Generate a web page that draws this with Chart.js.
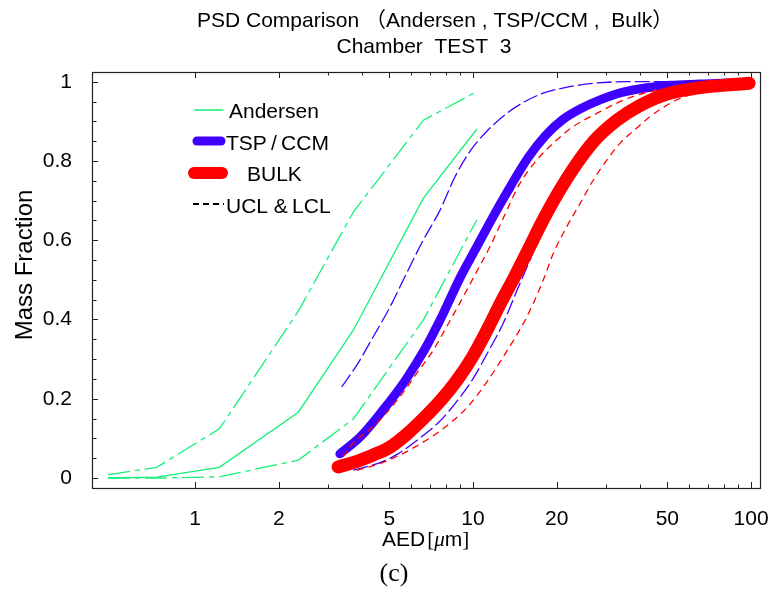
<!DOCTYPE html>
<html>
<head>
<meta charset="utf-8">
<script src="https://cdn.jsdelivr.net/npm/chart.js@4.4.1/dist/chart.umd.min.js"></script>
<style>
  body { margin: 0; background: #fff; }
</style>
</head>
<body>
<canvas id="psdChart" width="768" height="595"></canvas>
<script>
// values: AED [um] vs cumulative mass fraction
const andersenX = [0.487, 0.728, 1.223, 2.353, 3.71, 6.63, 10.31];
const andersenY = [0.0, 0.002, 0.027, 0.166, 0.373, 0.706, 0.880];
const andersenUclY = [0.008, 0.027, 0.124, 0.421, 0.671, 0.903, 0.975];
const andersenLclY = [0.0, 0.0, 0.003, 0.045, 0.149, 0.399, 0.651];

const tspX = [3.32, 3.92, 4.75, 5.69, 6.72, 7.80, 8.98, 10.31, 11.8, 13.59, 15.77, 18.16, 20.9, 24.26, 28.63, 34.36, 41.56, 51.1, 65.5, 84.0, 99.2];
const tspY = [0.061, 0.103, 0.172, 0.245, 0.326, 0.414, 0.505, 0.583, 0.659, 0.734, 0.808, 0.863, 0.903, 0.931, 0.954, 0.973, 0.984, 0.991, 0.994, 0.997, 0.998];
const tspUclX = [3.37, 3.82, 4.38, 5.03, 5.77, 6.63, 7.61, 8.61, 9.83, 11.32, 13.22, 15.38, 17.86, 21.43, 27.03, 35.7, 65.5, 99.2];
const tspUclY = [0.230, 0.285, 0.357, 0.432, 0.517, 0.601, 0.676, 0.760, 0.828, 0.878, 0.920, 0.950, 0.971, 0.985, 0.996, 1.0, 1.0, 1.0];
const tspLclX = [3.71, 4.55, 5.37, 6.34, 7.61, 8.83, 10.03, 11.32, 12.83, 14.40, 16.03, 17.42, 20.2, 23.3, 27.5, 33.0, 39.9, 49.9, 65.5, 99.2];
const tspLclY = [0.020, 0.037, 0.061, 0.097, 0.144, 0.197, 0.252, 0.318, 0.390, 0.474, 0.550, 0.611, 0.705, 0.772, 0.838, 0.890, 0.932, 0.962, 0.982, 0.995];

const bulkX = [3.27, 3.83, 4.37, 5.03, 5.79, 6.61, 7.61, 8.76, 10.0, 11.24, 12.62, 14.16, 15.77, 17.71, 20.22, 23.28, 27.47, 32.96, 39.87, 49.87, 65.5, 86.1, 98.4];
const bulkY = [0.028, 0.042, 0.058, 0.078, 0.111, 0.149, 0.194, 0.247, 0.308, 0.374, 0.444, 0.510, 0.575, 0.646, 0.719, 0.787, 0.853, 0.903, 0.940, 0.969, 0.985, 0.993, 0.996];
const bulkUclX = [3.41, 3.61, 4.50, 5.46, 6.27, 7.20, 8.04, 9.23, 10.31, 11.51, 12.85, 14.76, 16.95, 20.0, 22.95, 27.86, 32.88, 38.8, 51.1, 77.3, 99.2];
const bulkUclY = [0.053, 0.079, 0.138, 0.205, 0.264, 0.323, 0.382, 0.458, 0.521, 0.584, 0.656, 0.744, 0.802, 0.853, 0.887, 0.920, 0.946, 0.966, 0.984, 0.994, 0.997];
const bulkLclX = [3.82, 4.89, 6.10, 7.61, 9.49, 11.2, 13.22, 15.6, 17.9, 19.45, 21.73, 24.46, 27.08, 30.27, 33.8, 38.8, 43.3, 54.0, 65.5, 75.3, 99.2];
const bulkLclY = [0.019, 0.043, 0.076, 0.119, 0.177, 0.242, 0.320, 0.406, 0.500, 0.567, 0.634, 0.697, 0.752, 0.802, 0.845, 0.883, 0.912, 0.954, 0.975, 0.988, 0.996];

// ticks
const xTickVals = [1, 2, 3, 4, 5, 6, 7, 8, 9, 10, 20, 30, 40, 50, 60, 70, 80, 90, 100];
const xLabelVals = [1, 2, 5, 10, 20, 50, 100];
const yTickVals = [0, 0.05, 0.1, 0.15, 0.2, 0.25, 0.3, 0.35, 0.4, 0.45, 0.5, 0.55, 0.6, 0.65, 0.7, 0.75, 0.8, 0.85, 0.9, 0.95, 1];
const yLabelVals = [0, 0.2, 0.4, 0.6, 0.8, 1];

const SANS = '"Liberation Sans", Arial, "Noto Sans CJK JP", sans-serif';
const SERIF = '"Liberation Serif", "Times New Roman", serif';
const GREEN = 'rgb(20,240,120)';
const BLUE = '#4000ff';
const RED = '#ff0000';

function pts(xs, ys) {
  return xs.map((x, i) => ({ x: x, y: ys[i] }));
}

// frame, inward ticks, titles and legend
const decorations = {
  id: 'decorations',
  afterDraw(chart) {
    const ctx = chart.ctx;
    const a = chart.chartArea;
    const xs = chart.scales.x, ys = chart.scales.y;
    ctx.save();

    ctx.strokeStyle = '#222';
    ctx.lineWidth = 1.2;
    ctx.strokeRect(a.left + 0.5, a.top + 0.5, a.right - a.left, a.bottom - a.top);

    ctx.lineWidth = 1;
    ctx.beginPath();
    xTickVals.forEach(v => {
      const px = Math.round(xs.getPixelForValue(v)) + 0.5;
      const len = xLabelVals.includes(v) ? 6 : 3.5;
      ctx.moveTo(px, a.bottom); ctx.lineTo(px, a.bottom - len);
      ctx.moveTo(px, a.top); ctx.lineTo(px, a.top + len);
    });
    yTickVals.forEach(v => {
      const py = Math.round(ys.getPixelForValue(v)) + 0.5;
      const len = yLabelVals.includes(v) ? 6 : 4.5;
      ctx.moveTo(a.left, py); ctx.lineTo(a.left + len, py);
    });
    ctx.stroke();

    ctx.fillStyle = '#000';
    ctx.textBaseline = 'alphabetic';
    ctx.font = '21px ' + SANS;
    ctx.textAlign = 'left';
    ctx.fillText('PSD Comparison （Andersen , TSP/CCM ,  Bulk）', 197, 27);
    ctx.textAlign = 'center';
    ctx.fillText('Chamber  TEST  3', 424, 53);

    // y title
    ctx.save();
    ctx.translate(25, 265);
    ctx.rotate(-Math.PI / 2);
    ctx.textBaseline = 'middle';
    ctx.font = '24px ' + SANS;
    ctx.fillText('Mass Fraction', 0, 0);
    ctx.restore();

    // x title with mixed fonts
    let tx = 382;
    const ty = 546;
    ctx.textAlign = 'left';
    const parts = [
      ['AED', '21px ' + SANS],
      ['[', '21px ' + SERIF],
      ['\u03bc', 'italic 21px ' + SERIF],
      ['m', '21px ' + SANS],
      [']', '21px ' + SERIF]
    ];
    parts.forEach(p => {
      ctx.font = p[1];
      ctx.fillText(p[0], tx, ty);
      tx += ctx.measureText(p[0]).width + (p[0] === 'AED' ? 2 : 0);
    });

    ctx.textAlign = 'center';
    ctx.font = '26px ' + SERIF;
    ctx.fillText('(c)', 394, 581);

    // legend
    ctx.lineCap = 'round';
    ctx.strokeStyle = GREEN; ctx.lineWidth = 1.4;
    ctx.beginPath(); ctx.moveTo(195, 110); ctx.lineTo(223, 110); ctx.stroke();
    ctx.strokeStyle = BLUE; ctx.lineWidth = 9;
    ctx.beginPath(); ctx.moveTo(197, 141); ctx.lineTo(221, 141); ctx.stroke();
    ctx.strokeStyle = RED; ctx.lineWidth = 12;
    ctx.beginPath(); ctx.moveTo(194, 173); ctx.lineTo(222, 173); ctx.stroke();
    ctx.lineCap = 'butt';
    ctx.strokeStyle = '#000'; ctx.lineWidth = 2;
    ctx.setLineDash([6, 4]);
    ctx.beginPath(); ctx.moveTo(193, 204); ctx.lineTo(224, 204); ctx.stroke();
    ctx.setLineDash([]);

    ctx.fillStyle = '#000';
    ctx.font = '21px ' + SANS;
    ctx.textAlign = 'left';
    ctx.fillText('Andersen', 229, 118);
    ctx.fillText('TSP\u2009/\u2009CCM', 226, 150);
    ctx.fillText('BULK', 247, 181);
    ctx.fillText('UCL &\u2009LCL', 226, 213);

    ctx.restore();
  }
};

const thin = 1.3;

new Chart(document.getElementById('psdChart'), {
  type: 'line',
  data: {
    datasets: [
      { label: 'BULK', data: pts(bulkX, bulkY), borderColor: RED, borderWidth: 13,
        cubicInterpolationMode: 'monotone', borderCapStyle: 'round', borderJoinStyle: 'round', order: 0 },
      { label: 'BULK UCL', data: pts(bulkUclX, bulkUclY), borderColor: RED, borderWidth: thin,
        borderDash: [7, 5], cubicInterpolationMode: 'monotone', order: 1 },
      { label: 'BULK LCL', data: pts(bulkLclX, bulkLclY), borderColor: RED, borderWidth: thin,
        borderDash: [7, 5], cubicInterpolationMode: 'monotone', order: 1 },
      { label: 'TSP/CCM', data: pts(tspX, tspY), borderColor: BLUE, borderWidth: 9,
        cubicInterpolationMode: 'monotone', borderCapStyle: 'round', borderJoinStyle: 'round', order: 2 },
      { label: 'TSP/CCM UCL', data: pts(tspUclX, tspUclY), borderColor: BLUE, borderWidth: thin,
        borderDash: [15, 4], cubicInterpolationMode: 'monotone', order: 3 },
      { label: 'TSP/CCM LCL', data: pts(tspLclX, tspLclY), borderColor: BLUE, borderWidth: thin,
        borderDash: [15, 4], cubicInterpolationMode: 'monotone', order: 3 },
      { label: 'Andersen', data: pts(andersenX, andersenY), borderColor: GREEN, borderWidth: thin, order: 4 },
      { label: 'Andersen UCL', data: pts(andersenX, andersenUclY), borderColor: GREEN, borderWidth: thin,
        borderDash: [22, 5, 5, 5], order: 4 },
      { label: 'Andersen LCL', data: pts(andersenX, andersenLclY), borderColor: GREEN, borderWidth: thin,
        borderDash: [22, 5, 5, 5], order: 4 }
    ]
  },
  options: {
    responsive: false,
    animation: false,
    devicePixelRatio: 1,
    layout: { padding: { top: 72, right: 8, left: 0, bottom: 0 } },
    elements: { point: { radius: 0 }, line: { fill: false, tension: 0 } },
    plugins: { legend: { display: false }, title: { display: false }, tooltip: { enabled: false } },
    scales: {
      x: {
        type: 'logarithmic', min: 0.426, max: 107.7,
        grid: { display: false }, border: { display: false },
        afterBuildTicks: s => { s.ticks = xTickVals.map(v => ({ value: v })); },
        afterFit: s => { s.height = 107; s.paddingLeft = 0; s.paddingRight = 0; },
        ticks: {
          autoSkip: false, maxRotation: 0, minRotation: 0, padding: 11, color: '#000',
          font: { family: SANS, size: 21 },
          callback: v => xLabelVals.includes(v) ? String(v) : ''
        }
      },
      y: {
        type: 'linear', min: -0.0252, max: 1.0245,
        grid: { display: false }, border: { display: false },
        afterBuildTicks: s => { s.ticks = yTickVals.map(v => ({ value: v })); },
        afterFit: s => { s.width = 92; s.paddingTop = 0; s.paddingBottom = 0; },
        ticks: {
          autoSkip: false, padding: 12, color: '#000',
          font: { family: SANS, size: 21 },
          callback: v => yLabelVals.includes(v) ? String(v) : ''
        }
      }
    }
  },
  plugins: [decorations]
});
</script>
</body>
</html>
